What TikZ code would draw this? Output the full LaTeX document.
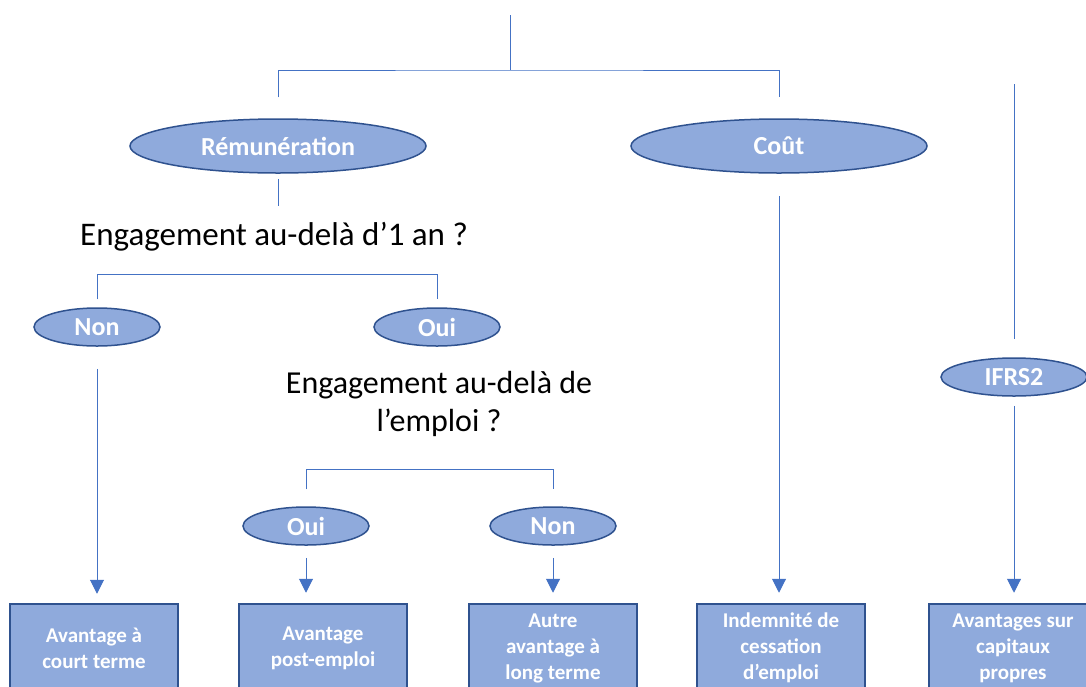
\documentclass[tikz,border=0pt]{standalone}
\usepackage{fontspec}
\setmainfont{Carlito}
\usetikzlibrary{positioning,arrows.meta,shapes.geometric,calc}

\definecolor{ovalfill}{HTML}{8FAADC}
\definecolor{ovaledge}{HTML}{2F528F}
\definecolor{linkblue}{HTML}{4472C4}

\begin{document}
\begin{tikzpicture}[
  x=1pt, y=-1pt,
  oval/.style={ellipse, draw=ovaledge, fill=ovalfill, line width=1.5pt,
               inner sep=0pt, text=white,
               font=\bfseries\fontsize{26}{31}\selectfont},
  bigoval/.style={oval, minimum width=296pt, minimum height=54pt},
  smalloval/.style={oval, minimum width=126pt, minimum height=38pt},
  result/.style={draw=ovaledge, fill=ovalfill, line width=2.5pt,
                 minimum width=168pt, minimum height=88pt, align=center,
                 text=white, font=\bfseries\fontsize{21}{26}\selectfont},
  question/.style={align=center, font=\fontsize{32}{38}\selectfont},
  link/.style={draw=linkblue, line width=1pt},
  arr/.style={link, -{Triangle[length=14pt,width=14pt]}},
]
\useasboundingbox (0,0) rectangle (1086,686);
\clip (0,0) rectangle (1086,686);

% ---------- top level ----------
\coordinate (root) at (510,15);
\coordinate (fork) at (510,70);
\node[bigoval] (rem) at (278,146) {Rémunération};
\node[bigoval] (cout) at (779,146) {Coût};

\draw[link] (root) -- (fork);
\draw[link] ($(rem.north)+(0,-21)$) |- (fork) -| ($(cout.north)+(0,-21)$);

% ---------- first question ----------
\node[question, font=\fontsize{33}{38}\selectfont] (q1) at (274,237)
  {Engagement au-delà d’1 an ?};
\draw[link] ($(rem.south)+(0,5)$) -- ($(rem.south)+(0,32)$);

\node[smalloval] (non1) at (97,327) {Non};
\node[smalloval] (oui1) at (437,327) {Oui};
\draw[link] ($(non1.north)+(0,-8)$) |- ($(oui1.north)+(0,-33)$)
  -- ($(oui1.north)+(0,-8)$);

% ---------- second question ----------
\node[question] (q2) at (439,404) {Engagement au-delà de\\l’emploi ?};

\node[smalloval] (oui2) at (306,526) {Oui};
\node[smalloval] (non2) at (553,526) {Non};
\draw[link] ($(oui2.north)+(0,-17)$) |- ($(non2.north)+(0,-37)$)
  -- ($(non2.north)+(0,-17)$);

% ---------- IFRS2 ----------
\node[oval, minimum width=146pt, minimum height=38pt] (ifrs) at (1014,377) {IFRS2};
\draw[link] ($(ifrs.north)+(0,-273)$) -- ($(ifrs.north)+(0,-18)$);

% ---------- outcomes ----------
\node[result] (court) at (94,648) {Avantage à\\court terme};
\node[result] (post) at (323,648) {Avantage\\post-emploi};
\node[result] (long) at (553,648) {Autre\\avantage à\\long terme};
\node[result] (cess) at (781,648) {Indemnité de\\cessation\\d’emploi};
\node[result] (capi) at (1013,648) {Avantages sur\\capitaux\\propres};

\draw[arr, shorten <=22pt, shorten >=9pt] (non1.south) -- (non1.south |- court.north);
\draw[arr, shorten <=12pt, shorten >=10pt] (oui2.south) -- (oui2.south |- post.north);
\draw[arr, shorten <=12pt, shorten >=10pt] (non2.south) -- (non2.south |- long.north);
\draw[arr, shorten <=22pt, shorten >=10pt] (cout.south) -- (cout.south |- cess.north);
\draw[arr, shorten <=9pt, shorten >=10pt] (ifrs.south) -- (ifrs.south |- capi.north);

\end{tikzpicture}
\end{document}
